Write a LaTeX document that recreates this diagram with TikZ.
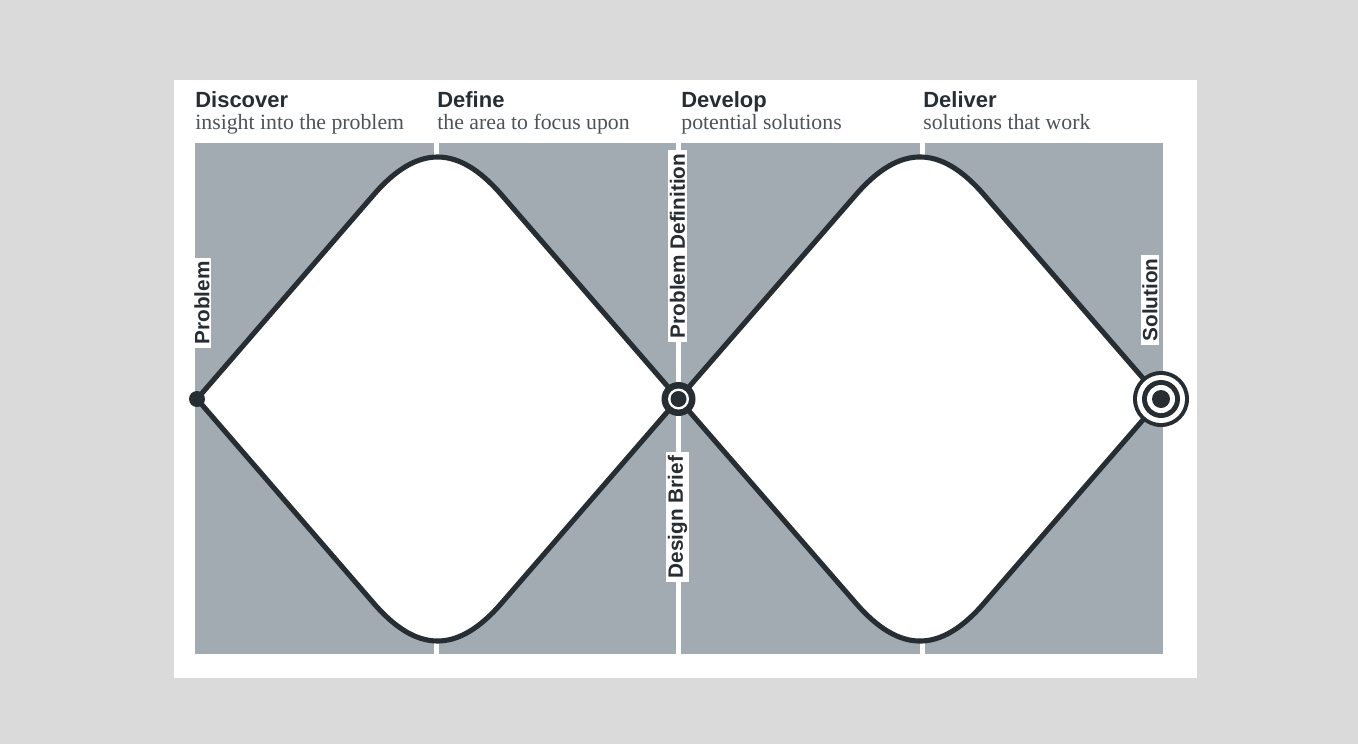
\documentclass[tikz,border=0pt]{standalone}
\usepackage{fontspec}
\setmainfont{Liberation Serif}
\setsansfont{Liberation Sans}
\usetikzlibrary{positioning,calc}
\definecolor{ink}{HTML}{262D33}
\definecolor{subgrey}{HTML}{4E5358}
\definecolor{zone}{HTML}{A2ABB2}
\definecolor{backdrop}{HTML}{DADADA}
\begin{document}
\begin{tikzpicture}[x=0.02cm, y=-0.02cm,
  head/.style={font=\sffamily\bfseries\fontsize{12.5}{14}\selectfont, text=ink,
               anchor=base west, inner sep=0pt},
  sub/.style={font=\fontsize{12.4}{14}\selectfont, text=subgrey, anchor=base west, inner sep=0pt},
  tag/.style={fill=white, rotate=90, text=ink, inner xsep=2pt, inner ysep=0.8pt,
              font=\sffamily\bfseries\fontsize{11.8}{14}\selectfont},
  outline/.style={draw=ink, line width=2.9pt, fill=white, line join=round}]
\fill[backdrop] (0,0) rectangle (1358,744);
\fill[white] (174,80) rectangle (1197,678);
\foreach \l/\r in {195/433.5, 438.5/676, 681/919.5, 924.5/1163}
  \fill[zone] (\l,143) rectangle (\r,654);
\coordinate (problem) at (197,399);
\coordinate (brief) at (678.5,399);
\coordinate (solution) at (1161,399);
\coordinate (top1) at (437.5,121);
\coordinate (bot1) at (437.5,677);
\coordinate (top2) at (920,121);
\coordinate (bot2) at (920,677);
\foreach \t/\b/\l/\r in {top1/bot1/problem/brief, top2/bot2/brief/solution}
  \draw[outline] (\l) -- ($(\t)!1.95cm!(\l)$)
    .. controls ($(\t)!0.62cm!(\l)$) and ($(\t)!0.62cm!(\r)$) .. ($(\t)!1.95cm!(\r)$) -- (\r)
    -- ($(\b)!1.95cm!(\r)$)
    .. controls ($(\b)!0.62cm!(\r)$) and ($(\b)!0.62cm!(\l)$) .. ($(\b)!1.95cm!(\l)$) -- cycle;
\node[head] (discover) at (195,107) {Discover};
\node[head] (define) at (437,107) {Define};
\node[head] (develop) at (681,107) {Develop};
\node[head] (deliver) at (923,107) {Deliver};
\node[sub] (insight) at (195,129) {insight into the problem};
\node[sub] (area) at (437,129) {the area to focus upon};
\node[sub] (potential) at (681,129) {potential solutions};
\node[sub] (work) at (923,129) {solutions that work};
\node[tag] (problemtag) at (202,303) {Problem};
\node[tag] (definitiontag) at (677.5,246) {Problem Definition};
\node[tag] (brieftag) at (677.5,517) {Design Brief};
\node[tag] (solutiontag) at (1150,300) {Solution};
\fill[ink] (problem) circle (8);
\foreach \s/\c in {17/ink, 10.5/white, 8/ink}
  \fill[\c] (brief) circle (\s);
\foreach \s/\c in {28/ink, 24/white, 19/ink, 14/white, 9/ink}
  \fill[\c] (solution) circle (\s);
\end{tikzpicture}
\end{document}
